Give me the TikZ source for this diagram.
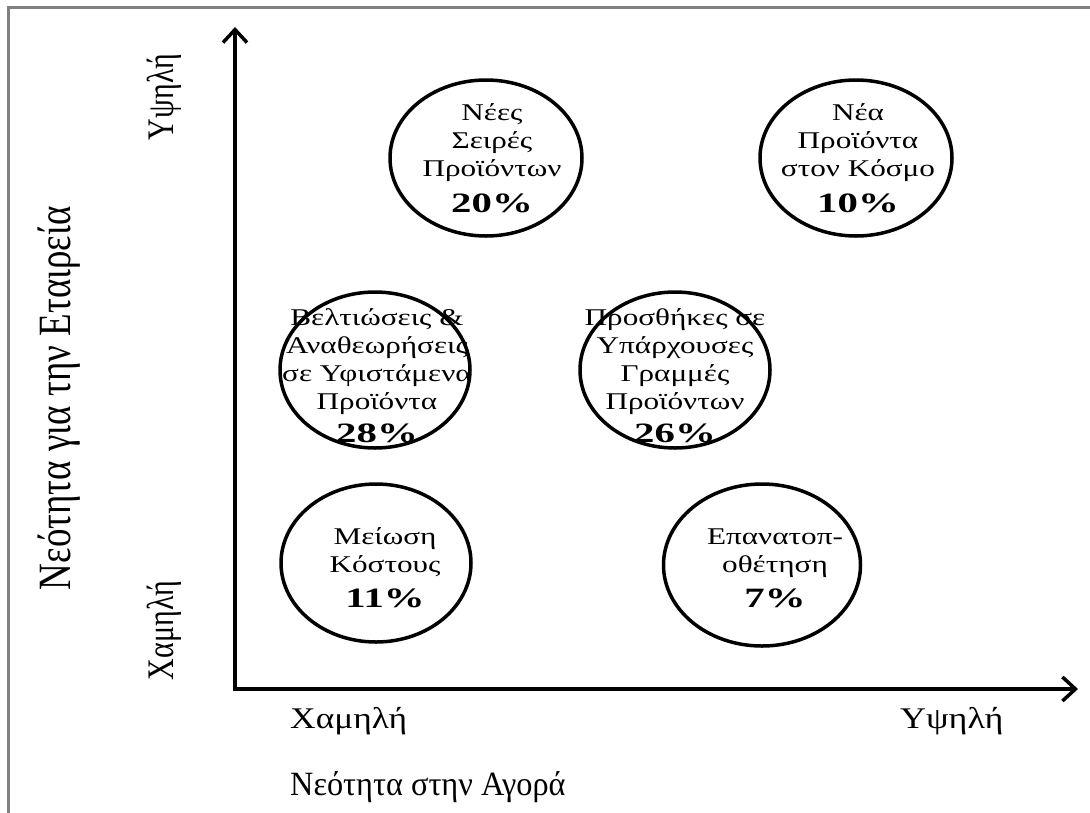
\documentclass[tikz,border=0pt]{standalone}
\usepackage{fontspec}
\setmainfont{Liberation Serif}
\usetikzlibrary{shapes.geometric,arrows.meta}
% rotated text, widened across the page
\newcommand{\vs}[1]{\scalebox{1.25}[1]{\rotatebox{90}{#1}}}
% bubble text: lines of plain text, then a bold percentage
\newcommand{\bubtxt}[3]{\scalebox{1.3}[1]{\fontsize{24}{28}\selectfont\begin{tabular}[t]{@{}c@{}}#1\\[#2]{\fontsize{28}{30}\selectfont\bfseries\scalebox{1.12}[1]{#3}}\end{tabular}}}
\tikzset{
  frame/.style={draw=black!50, line width=3pt},
  axis/.style={line width=3.5pt, {Straight Barb[length=13pt,width=24pt]}-{Straight Barb[length=13pt,width=24pt]}},
  bubble/.style={ellipse, draw, line width=3.5pt, minimum width=#1},
  bubble/.default=192pt,
  bubtext/.style={anchor=base, inner sep=0pt},
  ticklbl/.style={inner sep=0pt, font=\fontsize{30}{30}\selectfont},
  axtitle/.style={inner sep=0pt, font=\fontsize{34}{34}\selectfont}
}
\begin{document}
\begin{tikzpicture}[x=1pt, y=-1pt]
\useasboundingbox (0,0) rectangle (1090,812);
% outer frame (only top and left edges fall inside the page)
\draw[frame] (8,830) -- (8,7.5) -- (1100,7.5);

% axes
\coordinate (ytop) at (235,27);
\coordinate (O) at (235,689);
\coordinate (xend) at (1078,689);
\draw[axis] (ytop) -- (O) -- (xend);

% axis tick labels
\node[ticklbl, anchor=base west] (xlow) at (290,728) {\scalebox{1.18}[1]{Χαμηλή}};
\node[ticklbl, anchor=base west] (xhigh) at (900,728) {\scalebox{1.2}[1]{Υψηλή}};
\node[ticklbl, anchor=base east] (ylow) at (182,680) {\vs{Χαμηλή}};
\node[ticklbl, anchor=base east] (yhigh) at (182,140) {\vs{Υψηλή}};

% axis titles
\node[axtitle, anchor=base west] (xtitle) at (290,795) {\scalebox{0.95}[1]{Νεότητα στην Αγορά}};
\node[axtitle, anchor=base east, font=\fontsize{37}{37}\selectfont] (ytitle) at (81,590) {\vs{Νεότητα για την Εταιρεία}};

% bubbles
\node[bubble, minimum height=156pt] (e1) at (486,158) {};
\node[bubble, minimum height=156pt] (e2) at (856,158) {};
\node[bubble=190pt, minimum height=156pt] (e3) at (375,370) {};
\node[bubble=190pt, minimum height=156pt] (e4) at (675,370) {};
\node[bubble=190pt, minimum height=158pt] (e5) at (376,563) {};
\node[bubble=197pt, minimum height=162pt] (e6) at (762,565) {};

\node[bubtext] (t1) at (492,120) {\bubtxt{Νέες\\Σειρές\\Προϊόντων}{8pt}{20\%}};
\node[bubtext] (t2) at (858,120) {\bubtxt{Νέα\\Προϊόντα\\στον Κόσμο}{8pt}{10\%}};
\node[bubtext] (t3) at (377,325) {\bubtxt{Βελτιώσεις \&\\Αναθεωρήσεις\\σε Υφιστάμενα\\Προϊόντα}{5pt}{28\%}};
\node[bubtext] (t4) at (675,325) {\bubtxt{Προσθήκες σε\\Υπάρχουσες\\Γραμμές\\Προϊόντων}{5pt}{26\%}};
\node[bubtext] (t5) at (385,544) {\bubtxt{Μείωση\\Κόστους}{7pt}{11\%}};
\node[bubtext] (t6) at (775,544) {\bubtxt{Επανατοπ-\\οθέτηση}{7pt}{7\%}};
\end{tikzpicture}
\end{document}
